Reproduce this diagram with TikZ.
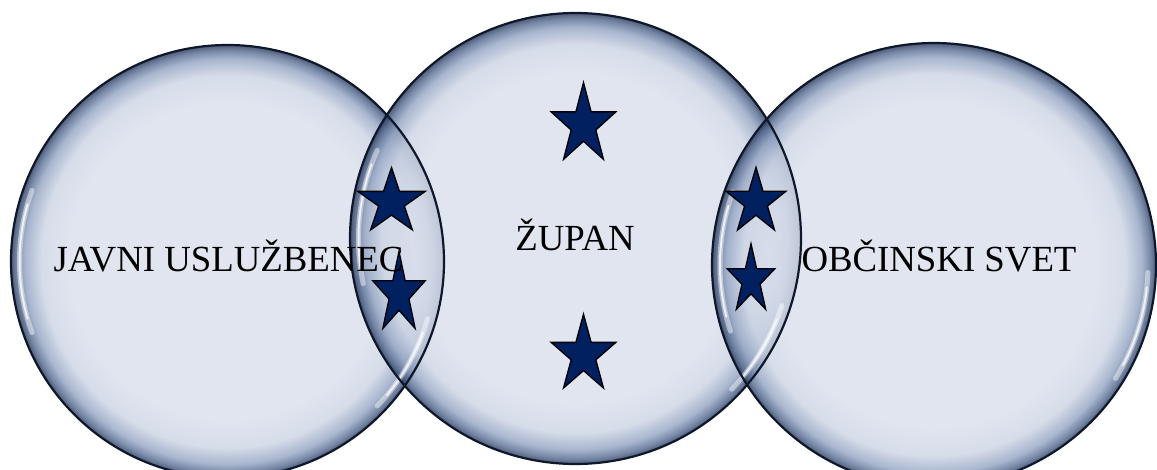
\documentclass[tikz,border=0pt]{standalone}
\usepackage{fontspec}
\setmainfont{Liberation Serif}
\usetikzlibrary{shapes.geometric}
\definecolor{starblue}{RGB}{0,32,96}
\definecolor{rimline}{RGB}{14,24,42}
\definecolor{bubA}{RGB}{218,223,236}
\definecolor{bubB}{RGB}{204,212,228}
\definecolor{bubC}{RGB}{146,163,194}
\definecolor{bubD}{RGB}{82,104,142}
\definecolor{bubE}{RGB}{34,50,84}
\pgfdeclareradialshading{bubble}{\pgfpoint{0bp}{0bp}}{%
  color(0bp)=(bubA); color(18bp)=(bubA); color(21.5bp)=(bubB);
  color(23.4bp)=(bubC); color(24.4bp)=(bubD); color(25bp)=(bubE); color(50bp)=(bubE)}
\tikzset{
  bubblebox/.style={circle, inner sep=0pt, shading=bubble, fill opacity=0.8},
  rim/.style={draw=rimline, line width=2.2pt},
  shine/.style={draw=white, line width=5pt, opacity=0.45, line cap=round},
  shinecore/.style={draw=white, line width=2pt, opacity=0.75, line cap=round},
  starshape/.style={star, star points=5, star point ratio=2.618, inner sep=0pt,
    fill=starblue, draw=black, line width=1.3pt},
  lbl/.style={font=\fontsize{36.8}{40}\selectfont, text=black, inner sep=0pt}
}
\begin{document}
\begin{tikzpicture}[x=1pt, y=-1pt]
\useasboundingbox (0,0) rectangle (1157,470);
% circles (shaded bodies)
\node[bubblebox, minimum size=433pt] (L) at (227.5,261.5) {};
\node[bubblebox, minimum size=451pt] (M) at (575.5,238.5) {};
\node[bubblebox, minimum size=444pt] (R) at (934,265) {};
% highlights
\foreach \n/\r/\a/\b/\c/\d in {L/208/160/200/-44/-16, M/217/156/192/-44/-18, R/214/160/198/-32/-2}{
  \draw[shine] ([shift={(\a:\r pt)}]\n.center) arc[start angle=\a, end angle=\b, radius=\r pt];
  \draw[shinecore] ([shift={(\a+4:\r pt)}]\n.center) arc[start angle=\a+4, end angle=\b-4, radius=\r pt];
  \draw[shine] ([shift={(\c:\r pt)}]\n.center) arc[start angle=\c, end angle=\d, radius=\r pt];
  \draw[shinecore] ([shift={(\c+4:\r pt)}]\n.center) arc[start angle=\c+4, end angle=\d-4, radius=\r pt];
}
% outlines
\draw[rim] (L.center) circle[radius=216.5pt];
\draw[rim] (M.center) circle[radius=225.5pt];
\draw[rim] (R.center) circle[radius=222pt];
% stars
\node[starshape, minimum size=68pt, yscale=1.25] (s1) at (583.5,125) {};
\node[starshape, minimum size=68pt, yscale=1.2] (s2) at (583.5,355) {};
\node[starshape, minimum size=71pt, yscale=0.97] (s3) at (391.5,202) {};
\node[starshape, minimum size=55pt, yscale=1.55] (s4) at (399,294) {};
\node[starshape, minimum size=63pt, yscale=1.1] (s5) at (756,202) {};
\node[starshape, minimum size=50pt, yscale=1.45] (s6) at (751,280) {};
% labels
\node[lbl, anchor=base] (tL) at (228.5,272) {JAVNI USLUŽBENEC};
\node[lbl, anchor=base] (tM) at (575,251) {ŽUPAN};
\node[lbl, anchor=base] (tR) at (939,272) {OBČINSKI SVET};
\end{tikzpicture}
\end{document}
